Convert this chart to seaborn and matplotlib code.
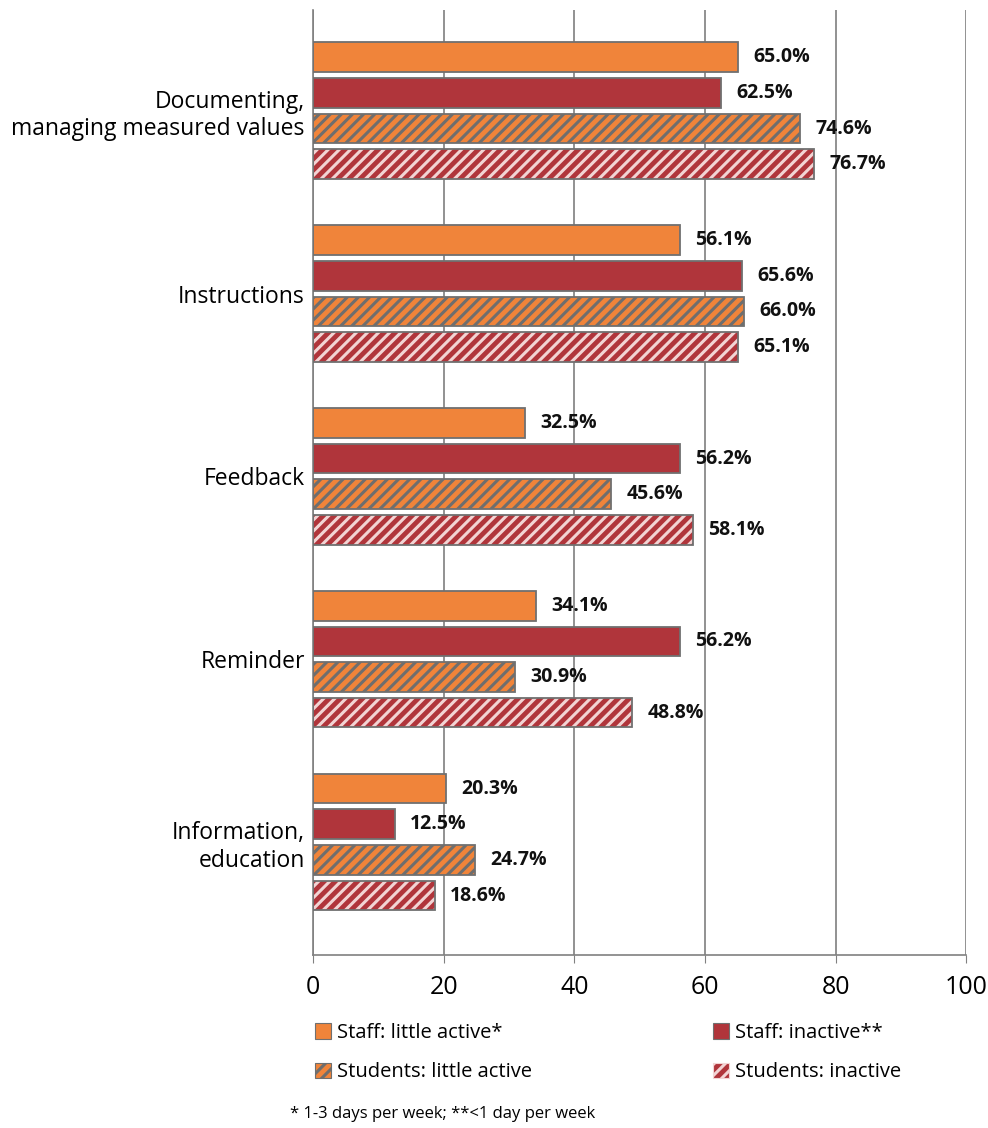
import pandas as pd
import numpy as np
import seaborn as sns
import matplotlib.pyplot as plt
from matplotlib.patches import Rectangle, Patch

categories = ['Documenting,\nmanaging measured values', 'Instructions', 'Feedback',
              'Reminder', 'Information,\neducation']
groups = ['Staff: little active*', 'Staff: inactive**',
          'Students: little active', 'Students: inactive']
staff_little = [65.0, 56.1, 32.5, 34.1, 20.3]
staff_inactive = [62.5, 65.6, 56.2, 56.2, 12.5]
students_little = [74.6, 66.0, 45.6, 30.9, 24.7]
students_inactive = [76.7, 65.1, 58.1, 48.8, 18.6]

orange = '#F0843A'
red = '#B0353B'
colors = [orange, red, orange, red]
hatch_colors = [None, None, '#6E6E6E', '#F2D4D4']

rows = []
for g, vals in zip(groups, [staff_little, staff_inactive, students_little, students_inactive]):
    for c, v in zip(categories, vals):
        rows.append({'category': c, 'group': g, 'value': v})
df = pd.DataFrame(rows)

plt.rcParams['font.family'] = ['Open Sans', 'DejaVu Sans']
plt.rcParams['hatch.linewidth'] = 2.2

fig = plt.figure(figsize=(9.88, 11.28), dpi=100)
ax = fig.add_axes([0.317, 0.153, 0.661, 0.838])

sns.barplot(data=df, y='category', x='value', hue='group', orient='h',
            palette=colors, saturation=1, width=0.78, gap=0.17, ax=ax, legend=False)

for i, cont in enumerate(ax.containers):
    for bar in cont:
        x0, y0 = bar.get_xy()
        w, h = bar.get_width(), bar.get_height()
        if hatch_colors[i] is not None:
            bar.set_hatch('///')
            bar.set_edgecolor(hatch_colors[i])
        bar.set_linewidth(0)
        ax.add_patch(Rectangle((x0, y0), w, h, fill=False, edgecolor='#707070',
                               linewidth=1.3, zorder=3))
    ax.bar_label(cont, labels=[f'{v:.1f}%' for v in cont.datavalues], padding=11,
                 fontsize=14, fontweight='bold', color='#111111')

ax.set_xlim(0, 100)
ax.set_ylim(4.62, -0.55)
ax.set_xticks([0, 20, 40, 60, 80, 100])
ax.tick_params(axis='x', labelsize=18, length=6, color='#808080', pad=8)
ax.tick_params(axis='y', labelsize=16.5, length=0, pad=6)
for lab in ax.get_yticklabels():
    lab.set_horizontalalignment('right')
    lab.set_multialignment('right')
ax.set_xlabel('')
ax.set_ylabel('')
ax.grid(axis='x', color='#7F7F7F', linewidth=1.2)
ax.set_axisbelow(True)
for s in ['top', 'right']:
    ax.spines[s].set_visible(False)
ax.spines['left'].set_color('#808080')
ax.spines['bottom'].set_color('#808080')
ax.spines['left'].set_linewidth(1.2)
ax.spines['bottom'].set_linewidth(1.2)

handles = []
for i, g in enumerate(groups):
    if hatch_colors[i] is None:
        handles.append(Patch(facecolor=colors[i], edgecolor='#707070', linewidth=0.8, label=g))
    else:
        handles.append(Patch(facecolor=colors[i], edgecolor=hatch_colors[i], hatch='///',
                             linewidth=0.8, label=g))
# row-wise order: staff on the first row, students on the second
handles = [handles[0], handles[2], handles[1], handles[3]]
fig.legend(handles=handles, loc='upper left', bbox_to_anchor=(0.300, 0.109), ncol=2,
           frameon=False, fontsize=14.5, handlelength=0.8, handleheight=0.8,
           handletextpad=0.3, columnspacing=9.0, labelspacing=0.95)
fig.text(0.294, 0.005, '* 1-3 days per week; **<1 day per week', fontsize=12,
         ha='left', va='bottom')

plt.savefig('out.png', dpi=100)
